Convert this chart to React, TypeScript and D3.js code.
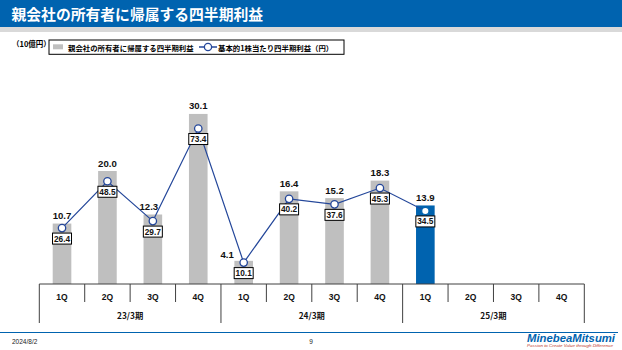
import React from "react";
import * as d3 from "d3";

const quarters = ["1Q", "2Q", "3Q", "4Q", "1Q", "2Q", "3Q", "4Q", "1Q", "2Q", "3Q", "4Q"];
const periods = ["23/3期", "24/3期", "25/3期"];
const profit = [10.7, 20.0, 12.3, 30.1, 4.1, 16.4, 15.2, 18.3, 13.9];
const eps = [26.4, 48.5, 29.7, 73.4, 10.1, 40.2, 37.6, 45.3, 34.5];
const highlightIndex = 8;

const W = 622;
const H = 350;
const AXIS_Y = 284;
const PLOT_TOP = 58;
const X0 = 39.3;
const X1 = 584.3;

const BLUE = "#0063AF";
const GRAY = "#BFBFBF";
const LINE = "#24479A";
const NUM_FONT = "'Liberation Sans', Arial, sans-serif";
const JP_FONT = "'Noto Sans CJK JP', 'Noto Sans', sans-serif";

// manual nudges of bar value labels to avoid the line (pixels)
const labelNudgeX = (i: number) => (i === 4 ? -16.5 : i === 2 ? -4 : 0);
const labelNudgeY = (i: number) => (i === 4 ? 1.2 : 0);

export default function App() {
  const x = d3.scaleBand<number>().domain(d3.range(quarters.length)).range([X0, X1]).padding(0);
  const yBar = d3.scaleLinear().domain([0, 40]).range([AXIS_Y, PLOT_TOP]);
  const yEps = d3.scaleLinear().domain([0, 106.7]).range([AXIS_Y, PLOT_TOP]);
  const bw = x.bandwidth() * 0.41;
  const cx = (i: number) => (x(i) as number) + x.bandwidth() / 2;

  const line = d3
    .line<number>()
    .x((_, i) => cx(i))
    .y((d) => yEps(d));

  return (
    <svg
      width={W}
      height={H}
      style={{ position: "absolute", left: 0, top: 0, background: "#fff" }}
      xmlns="http://www.w3.org/2000/svg"
    >
      {/* Header */}
      <rect x={0} y={0} width={W} height={27} fill={BLUE} />
      <rect x={0} y={27} width={W} height={5} fill="#D9D9D9" />
      <text x={11.5} y={20.3} fill="#fff" fontFamily={JP_FONT} fontWeight={700} fontSize={14.8}>
        親会社の所有者に帰属する四半期利益
      </text>

      {/* Unit */}
      <text x={12} y={47} fontFamily={JP_FONT} fontWeight={700} fontSize={7.5} fill="#000">
        （10億円）
      </text>

      {/* Legend */}
      <rect x={49} y={40} width={295} height={14.3} fill="#fff" stroke="#000" strokeWidth={1} />
      <rect x={53} y={44.3} width={10} height={5} fill={GRAY} />
      <text x={68} y={50.5} fontFamily={JP_FONT} fontWeight={700} fontSize={7.4} fill="#000">
        親会社の所有者に帰属する四半期利益
      </text>
      <line x1={199} x2={217} y1={47} y2={47} stroke={LINE} strokeWidth={1.5} />
      <circle cx={208} cy={47} r={3.6} fill="#fff" stroke={LINE} strokeWidth={1.3} />
      <text x={218} y={50.5} fontFamily={JP_FONT} fontWeight={700} fontSize={7.4} fill="#000">
        基本的1株当たり四半期利益（円）
      </text>

      {/* Bars */}
      {profit.map((v, i) => (
        <rect
          key={"b" + i}
          x={cx(i) - bw / 2}
          y={yBar(v)}
          width={bw}
          height={AXIS_Y - yBar(v)}
          fill={i === highlightIndex ? BLUE : GRAY}
        />
      ))}

      {/* Bar labels */}
      {profit.map((v, i) => (
        <text
          key={"bl" + i}
          x={cx(i) + labelNudgeX(i)}
          y={yBar(v) - 4.5 + labelNudgeY(i)}
          textAnchor="middle"
          fontFamily={NUM_FONT}
          fontWeight={700}
          fontSize={9.6}
          fill="#111"
        >
          {v.toFixed(1)}
        </text>
      ))}

      {/* EPS line */}
      <path d={line(eps) || ""} fill="none" stroke={LINE} strokeWidth={1.2} />
      {eps.map((v, i) => (
        <circle
          key={"c" + i}
          cx={cx(i)}
          cy={yEps(v)}
          r={3.7}
          fill="#fff"
          stroke={i === highlightIndex ? BLUE : LINE}
          strokeWidth={1.3}
        />
      ))}
      {eps.map((v, i) => (
        <g key={"el" + i}>
          <rect
            x={cx(i) - 9.5}
            y={yEps(v) + 5}
            width={19}
            height={11}
            fill="#fff"
            stroke="#000"
            strokeWidth={1}
          />
          <text
            x={cx(i)}
            y={yEps(v) + 13.5}
            textAnchor="middle"
            fontFamily={NUM_FONT}
            fontWeight={700}
            fontSize={8.3}
            fill="#111"
          >
            {v.toFixed(1)}
          </text>
        </g>
      ))}

      {/* Category axis */}
      <line x1={X0} x2={X1} y1={AXIS_Y} y2={AXIS_Y} stroke="#404040" strokeWidth={1} />
      {d3.range(quarters.length + 1).map((i) => {
        const xx = i < quarters.length ? (x(i) as number) : X1;
        const long = i % 4 === 0;
        return (
          <line
            key={"t" + i}
            x1={xx}
            x2={xx}
            y1={AXIS_Y}
            y2={long ? 323 : 302}
            stroke="#404040"
            strokeWidth={1}
          />
        );
      })}
      {quarters.map((q, i) => (
        <text
          key={"q" + i}
          x={cx(i)}
          y={299.5}
          textAnchor="middle"
          fontFamily={NUM_FONT}
          fontWeight={700}
          fontSize={8.5}
          fill="#111"
        >
          {q}
        </text>
      ))}
      {periods.map((p, k) => (
        <text
          key={"p" + k}
          x={((x(k * 4) as number) + ((k + 1) * 4 < quarters.length ? (x((k + 1) * 4) as number) : X1)) / 2}
          y={319}
          textAnchor="middle"
          fontFamily={JP_FONT}
          fontWeight={700}
          fontSize={8.3}
          fill="#111"
        >
          {p}
        </text>
      ))}

      {/* Footer */}
      <line x1={0} x2={618} y1={332.5} y2={332.5} stroke={BLUE} strokeWidth={1} />
      <text x={12} y={343.5} fontFamily={NUM_FONT} fontSize={6.5} fill="#222">
        2024/8/2
      </text>
      <text x={311} y={343.5} fontFamily={NUM_FONT} fontSize={6.5} fill="#222" textAnchor="middle">
        9
      </text>
      <text
        x={527}
        y={342}
        fontFamily={NUM_FONT}
        fontWeight={700}
        fontStyle="italic"
        fontSize={10.5}
        fill={BLUE}
        textLength={88}
        lengthAdjust="spacingAndGlyphs"
      >
        MinebeaMitsumi
      </text>
      <text x={527} y={347} fontFamily={NUM_FONT} fontStyle="italic" fontSize={3.4} fill="#C0392B" textLength={86} lengthAdjust="spacingAndGlyphs">
        Passion to Create Value through Difference
      </text>
    </svg>
  );
}
